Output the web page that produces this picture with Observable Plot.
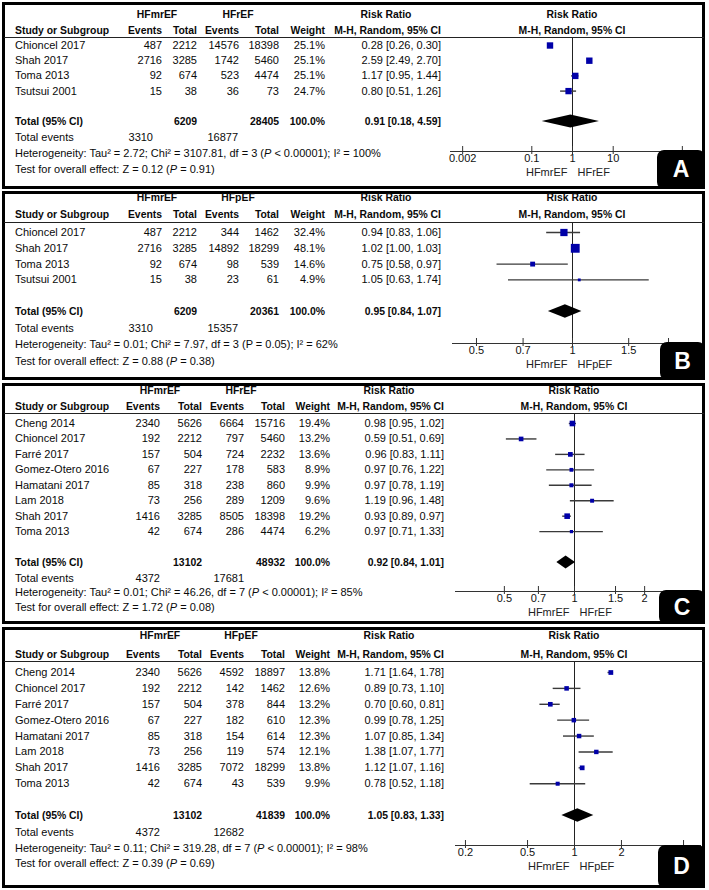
<!DOCTYPE html>
<html><head><meta charset="utf-8">
<script src="https://cdn.jsdelivr.net/npm/d3@7"></script>
<script src="https://cdn.jsdelivr.net/npm/@observablehq/plot@0.6"></script>
<style>
body{margin:0;background:#fff;}
#fig{position:relative;width:709px;height:890px;background:#fff;font-family:"Liberation Sans",Arial,sans-serif;font-size:11px;color:#0a0a0a;overflow:hidden;}
.t{position:absolute;white-space:nowrap;line-height:13px;}
.b{font-weight:bold;font-size:10.4px;}
.panel{position:absolute;border:3px solid #000;box-sizing:border-box;}
.hl{position:absolute;height:1px;background:#222;}
.lbl{position:absolute;background:#000;color:#fff;font-weight:bold;font-size:23px;border-radius:7px;display:flex;align-items:center;justify-content:center;font-family:"Liberation Sans",Arial,sans-serif;}
#fig svg{position:absolute;left:0;}
</style></head><body><div id="fig"></div><script>
// ---------------- DATA ----------------
const studiesAB = ["Chioncel 2017", "Shah 2017", "Toma 2013", "Tsutsui 2001"];
const studiesCD = ["Cheng 2014", "Chioncel 2017", "Farré 2017", "Gomez-Otero 2016", "Hamatani 2017", "Lam 2018", "Shah 2017", "Toma 2013"];
const mrEventsAB = [487, 2716, 92, 15];
const mrTotalAB = [2212, 3285, 674, 38];
const mrEventsCD = [2340, 192, 157, 67, 85, 73, 1416, 42];
const mrTotalCD = [5626, 2212, 504, 227, 318, 256, 3285, 674];

// Panel A: HFmrEF vs HFrEF
const eventsA = [14576, 1742, 523, 36];
const totalA = [18398, 5460, 4474, 73];
const weightA = [25.1, 25.1, 25.1, 24.7];
const rrA = [0.28, 2.59, 1.17, 0.80];
const lowerA = [0.26, 2.49, 0.95, 0.51];
const upperA = [0.30, 2.70, 1.44, 1.26];
const pooledA = [0.91, 0.18, 4.59];
const sumTotalsA = [6209, 28405];
const sumEventsA = [3310, 16877];
const hetA = "Tau² = 2.72; Chi² = 3107.81, df = 3 (<i>P</i> &lt; 0.00001); I² = 100%";
const testA = "Z = 0.12 (<i>P</i> = 0.91)";
const groupsA = ["HFmrEF", "HFrEF"];
const ticksA = [0.002, 0.1, 1, 10, 500];

// Panel B: HFmrEF vs HFpEF
const eventsB = [344, 14892, 98, 23];
const totalB = [1462, 18299, 539, 61];
const weightB = [32.4, 48.1, 14.6, 4.9];
const rrB = [0.94, 1.02, 0.75, 1.05];
const lowerB = [0.83, 1.00, 0.58, 0.63];
const upperB = [1.06, 1.03, 0.97, 1.74];
const pooledB = [0.95, 0.84, 1.07];
const sumTotalsB = [6209, 20361];
const sumEventsB = [3310, 15357];
const hetB = "Tau² = 0.01; Chi² = 7.97, df = 3 (P = 0.05); I² = 62%";
const testB = "Z = 0.88 (<i>P</i> = 0.38)";
const groupsB = ["HFmrEF", "HFpEF"];
const ticksB = [0.5, 0.7, 1, 1.5, 2];

// Panel C: HFmrEF vs HFrEF
const eventsC = [6664, 797, 724, 178, 238, 289, 8505, 286];
const totalC = [15716, 5460, 2232, 583, 860, 1209, 18398, 4474];
const weightC = [19.4, 13.2, 13.6, 8.9, 9.9, 9.6, 19.2, 6.2];
const rrC = [0.98, 0.59, 0.96, 0.97, 0.97, 1.19, 0.93, 0.97];
const lowerC = [0.95, 0.51, 0.83, 0.76, 0.78, 0.96, 0.89, 0.71];
const upperC = [1.02, 0.69, 1.11, 1.22, 1.19, 1.48, 0.97, 1.33];
const pooledC = [0.92, 0.84, 1.01];
const sumTotalsC = [13102, 48932];
const sumEventsC = [4372, 17681];
const hetC = "Tau² = 0.01; Chi² = 46.26, df = 7 (<i>P</i> &lt; 0.00001); I² = 85%";
const testC = "Z = 1.72 (<i>P</i> = 0.08)";
const groupsC = ["HFmrEF", "HFrEF"];
const ticksC = [0.5, 0.7, 1, 1.5, 2];

// Panel D: HFmrEF vs HFpEF
const eventsD = [4592, 142, 378, 182, 154, 119, 7072, 43];
const totalD = [18897, 1462, 844, 610, 614, 574, 18299, 539];
const weightD = [13.8, 12.6, 13.2, 12.3, 12.3, 12.1, 13.8, 9.9];
const rrD = [1.71, 0.89, 0.70, 0.99, 1.07, 1.38, 1.12, 0.78];
const lowerD = [1.64, 0.73, 0.60, 0.78, 0.85, 1.07, 1.07, 0.52];
const upperD = [1.78, 1.10, 0.81, 1.25, 1.34, 1.77, 1.16, 1.18];
const pooledD = [1.05, 0.83, 1.33];
const sumTotalsD = [13102, 41839];
const sumEventsD = [4372, 12682];
const hetD = "Tau² = 0.11; Chi² = 319.28, df = 7 (<i>P</i> &lt; 0.00001); I² = 98%";
const testD = "Z = 0.39 (<i>P</i> = 0.69)";
const groupsD = ["HFmrEF", "HFpEF"];
const ticksD = [0.2, 0.5, 1, 2, 5];

const panels = [
  {key: "A", studies: studiesAB, e1: mrEventsAB, n1: mrTotalAB, e2: eventsA, n2: totalA, w: weightA, rr: rrA, lo: lowerA, hi: upperA, pooled: pooledA, sums: sumTotalsA, sumEv: sumEventsA, het: hetA, test: testA, groups: groupsA, ticks: ticksA},
  {key: "B", studies: studiesAB, e1: mrEventsAB, n1: mrTotalAB, e2: eventsB, n2: totalB, w: weightB, rr: rrB, lo: lowerB, hi: upperB, pooled: pooledB, sums: sumTotalsB, sumEv: sumEventsB, het: hetB, test: testB, groups: groupsB, ticks: ticksB},
  {key: "C", studies: studiesCD, e1: mrEventsCD, n1: mrTotalCD, e2: eventsC, n2: totalC, w: weightC, rr: rrC, lo: lowerC, hi: upperC, pooled: pooledC, sums: sumTotalsC, sumEv: sumEventsC, het: hetC, test: testC, groups: groupsC, ticks: ticksC},
  {key: "D", studies: studiesCD, e1: mrEventsCD, n1: mrTotalCD, e2: eventsD, n2: totalD, w: weightD, rr: rrD, lo: lowerD, hi: upperD, pooled: pooledD, sums: sumTotalsD, sumEv: sumEventsD, het: hetD, test: testD, groups: groupsD, ticks: ticksD}
];

// ---------------- LAYOUT ----------------
const colsAB = [162, 197, 239, 279, 325, 441];
const colsCD = [160, 202, 244, 285, 330, 444];
const layout = {
  A: {top: 2, height: 187, h1: 14, h2: 30, line: 37, row0: 45, total: 121, events: 137, het: 153, test: 169, axis: 151, axisStart: 450, center: 572, ppd: 40.7, cols: colsAB, evCols: [153, 238], groupX: [157, 238], box: [657, 150, 48, 39]},
  B: {top: 191, height: 189, h1: 197, h2: 214, line: 222, row0: 232, total: 311, events: 328, het: 344, test: 361, axis: 343, axisStart: 452, center: 572, ppd: 319, cols: colsAB, evCols: [153, 238], groupX: [157, 238], box: [660, 342, 45, 38]},
  C: {top: 383, height: 241, h1: 390, h2: 406, line: 413, row0: 423, total: 562, events: 578, het: 592, test: 607, axis: 591, axisStart: 455, center: 574, ppd: 233, cols: colsCD, evCols: [160, 244], groupX: [160, 241], box: [659, 590, 46, 34]},
  D: {top: 627, height: 261, h1: 635, h2: 654, line: 661, row0: 672, total: 815, events: 832, het: 848, test: 863, axis: 845, axisStart: 455, center: 574, ppd: 156, cols: colsCD, evCols: [160, 244], groupX: [160, 241], box: [658, 845, 47, 43]}
};

const fig = document.getElementById("fig");
function txt(html, x, y, align, cls) {
  const d = document.createElement("div");
  d.className = "t " + (cls || "");
  d.innerHTML = html;
  d.style.left = x + "px";
  d.style.top = y + "px";
  const tx = align === "right" ? "-100%" : align === "center" ? "-50%" : "0";
  d.style.transform = `translate(${tx}, -50%)`;
  fig.appendChild(d);
}
const f2 = v => v.toFixed(2);
const ci = (a, b, c) => `${f2(a)} [${f2(b)}, ${f2(c)}]`;

for (const P of panels) {
  const L = layout[P.key];
  const n = P.studies.length;

  const box = document.createElement("div");
  box.className = "panel";
  Object.assign(box.style, {left: "2px", top: L.top + "px", width: "703px", height: L.height + "px"});
  fig.appendChild(box);

  const hl = document.createElement("div");
  hl.className = "hl";
  Object.assign(hl.style, {left: "4px", width: "700px", top: L.line + "px"});
  fig.appendChild(hl);

  // forest plot
  const rows = P.studies.map((s, i) => ({i, rr: P.rr[i], lo: P.lo[i], hi: P.hi[i], w: P.w[i]}));
  const t0 = P.ticks[0], t1 = P.ticks[P.ticks.length - 1];
  const xRange = [L.center + L.ppd * Math.log10(t0), L.center + L.ppd * Math.log10(t1)];
  const T = n + 1;
  const diamond = [
    {x: P.pooled[1], y1: T, y2: T},
    {x: P.pooled[0], y1: T - 0.42, y2: T + 0.42},
    {x: P.pooled[2], y1: T, y2: T}
  ];
  let chart;
  chart = Plot.plot({
    width: 709,
    height: L.height,
    marginTop: L.line - L.top,
    marginBottom: L.top + L.height - L.axis,
    marginLeft: L.axisStart,
    marginRight: 9,
    style: {background: "transparent", fontFamily: "'Liberation Sans', Arial, sans-serif", fontSize: "11px", color: "#111", overflow: "visible"},
    x: {type: "log", domain: [t0, t1], range: xRange},
    y: {domain: [0, T], range: [L.row0 - L.top, L.total - L.top], axis: null},
    r: {type: "sqrt", domain: [0, 100], range: [0, 7.2]},
    marks: [
      Plot.ruleX([1], {stroke: "#222", strokeWidth: 1}),
      Plot.frame({anchor: "bottom", stroke: "#333", strokeWidth: 1}),
      // a tick label that would sit under the panel letter box is hidden (as in the original)
      Plot.axisX({ticks: P.ticks, tickFormat: d => (d === t1 && xRange[1] > L.box[0] ? "" : String(d)), tickSize: 8, dy: -5, tickPadding: 0, fontSize: 11, stroke: "#333"}),
      Plot.ruleY(rows, {y: "i", x1: "lo", x2: "hi", stroke: "#3a3a3a", strokeWidth: 1.4}),
      Plot.dot(rows, {x: "rr", y: "i", r: "w", symbol: "square", fill: "#0000a8", stroke: "none"}),
      Plot.areaY(diamond, {x: "x", y1: "y1", y2: "y2", fill: "#000"}),
      Plot.text([P.groups[0]], {x: () => 1, frameAnchor: "bottom", dy: 24, dx: -5, textAnchor: "end", fontSize: 11, fill: "#222"}),
      Plot.text([P.groups[1]], {x: () => 1, frameAnchor: "bottom", dy: 24, dx: 5, textAnchor: "start", fontSize: 11, fill: "#222"})
    ]
  });
  chart.style.top = L.top + "px";
  fig.appendChild(chart);

  // headers
  txt(P.groups[0], L.groupX[0], L.h1, "center", "b");
  txt(P.groups[1], L.groupX[1], L.h1, "center", "b");
  txt("Risk Ratio", L.cols[5] - 55, L.h1, "center", "b");
  txt("Risk Ratio", L.center, L.h1, "center", "b");
  txt("Study or Subgroup", 15, L.h2, "left", "b");
  ["Events", "Total", "Events", "Total", "Weight"].forEach((h, i) => txt(h, L.cols[i], L.h2, "right", "b"));
  txt("M-H, Random, 95% CI", L.cols[5], L.h2, "right", "b");
  txt("M-H, Random, 95% CI", L.center, L.h2, "center", "b");

  // study rows
  const step = (L.total - L.row0) / T;
  P.studies.forEach((s, i) => {
    const y = L.row0 + i * step;
    txt(s, 15, y, "left");
    [P.e1[i], P.n1[i], P.e2[i], P.n2[i]].forEach((v, k) => txt(String(v), L.cols[k], y, "right"));
    txt(P.w[i].toFixed(1) + "%", L.cols[4], y, "right");
    txt(ci(P.rr[i], P.lo[i], P.hi[i]), L.cols[5], y, "right");
  });

  // totals
  txt("Total (95% CI)", 15, L.total, "left", "b");
  txt(String(P.sums[0]), L.cols[1], L.total, "right", "b");
  txt(String(P.sums[1]), L.cols[3], L.total, "right", "b");
  txt("100.0%", L.cols[4], L.total, "right", "b");
  txt(ci(P.pooled[0], P.pooled[1], P.pooled[2]), L.cols[5], L.total, "right", "b");
  txt("Total events", 15, L.events, "left");
  txt(String(P.sumEv[0]), L.evCols[0], L.events, "right");
  txt(String(P.sumEv[1]), L.evCols[1], L.events, "right");
  txt("Heterogeneity: " + P.het, 15, L.het, "left");
  txt("Test for overall effect: " + P.test, 15, L.test, "left");

  // panel letter
  const lb = document.createElement("div");
  lb.className = "lbl";
  lb.textContent = P.key;
  Object.assign(lb.style, {left: L.box[0] + "px", top: L.box[1] + "px", width: L.box[2] + "px", height: L.box[3] + "px"});
  fig.appendChild(lb);
}
</script></body></html>
